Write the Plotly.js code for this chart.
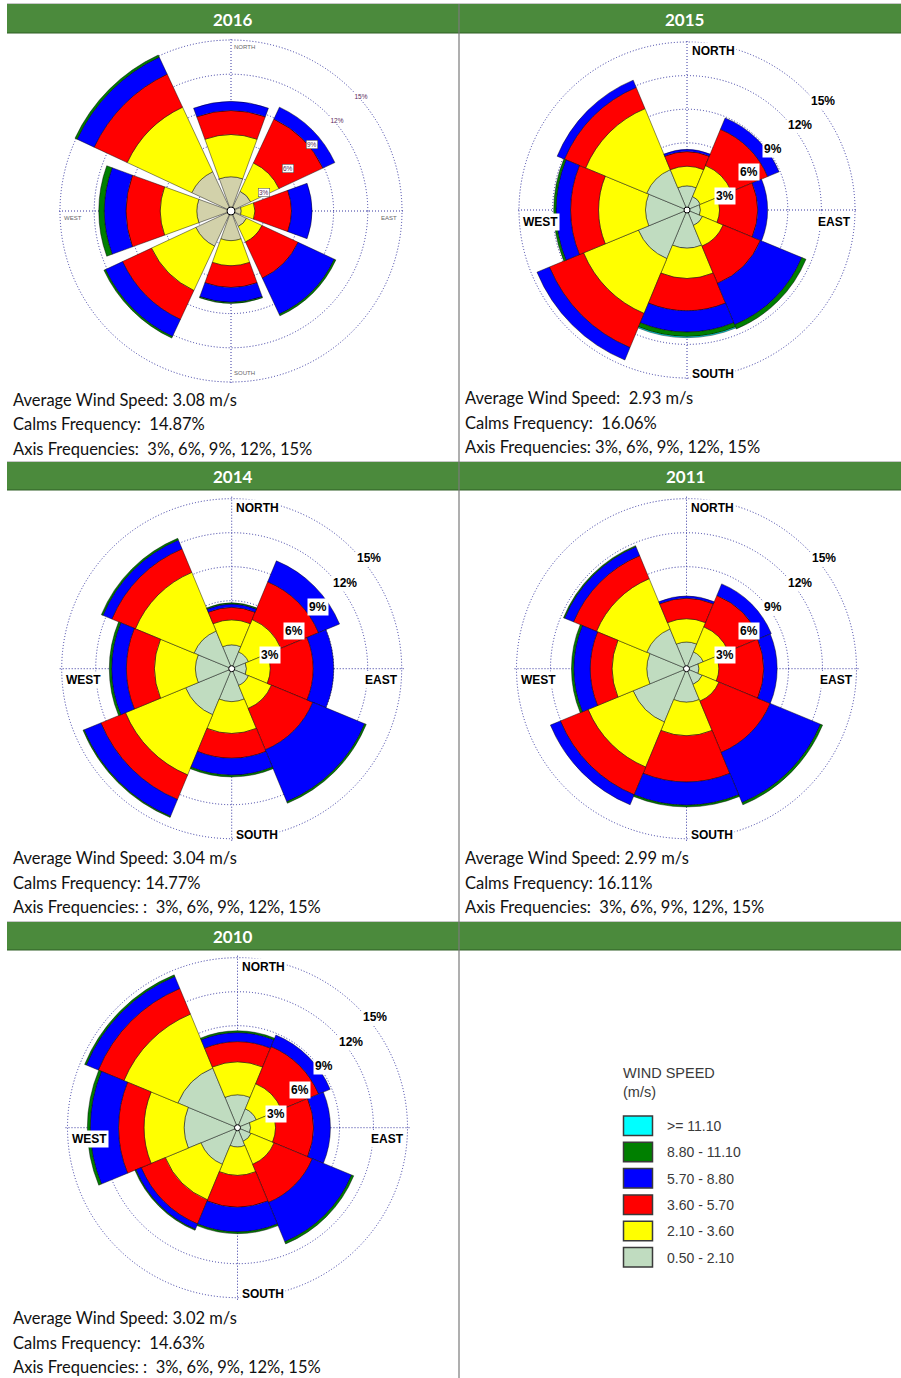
<!DOCTYPE html>
<html><head><meta charset="utf-8">
<script src="https://cdn.plot.ly/plotly-3.0.1.min.js"></script>
<style>html,body{margin:0;padding:0;background:#fff}#chart{width:901px;height:1378px}</style>
</head><body><div id="chart"></div>
<script>
// ---------------- DATA ----------------
const directions = [0, 45, 90, 135, 180, 225, 270, 315];           // N, NE, E, SE, S, SW, W, NW
const speedClasses = ['0.50 - 2.10', '2.10 - 3.60', '3.60 - 5.70', '5.70 - 8.80', '8.80 - 11.10', '>= 11.10'];
const years = ['2016', '2015', '2014', '2011', '2010'];
// frequency (%) per speed class (rows) and direction (columns)
const freq2016 = [
  [3.0, 1.9, 0.9, 1.5, 2.6, 3.4, 3.0, 3.8],
  [3.7, 2.75, 1.2, 1.5, 2.2, 4.3, 3.2, 6.25],
  [2.1, 4.25, 3.2, 3.5, 1.9, 2.8, 3.0, 3.2],
  [0.8, 1.15, 1.8, 3.5, 1.3, 1.65, 1.9, 1.65],
  [0, 0, 0, 0.15, 0.1, 0.15, 0.5, 0.2],
  [0, 0, 0, 0, 0, 0, 0, 0]
];
const freq2015 = [
  [2.15, 1.3, 1.2, 1.5, 3.4, 4.7, 3.7, 3.9],
  [1.75, 3.0, 1.7, 2.0, 2.7, 5.3, 4.2, 5.9],
  [1.3, 3.5, 3.4, 3.6, 2.9, 3.3, 2.5, 2.05],
  [0.2, 1.1, 0.9, 4.0, 1.9, 1.2, 1.3, 0.7],
  [0, 0, 0, 0.4, 0.4, 0, 0.2, 0],
  [0, 0, 0, 0, 0.1, 0, 0, 0]
];
const freq2014 = [
  [2.1, 1.6, 1.3, 1.6, 2.9, 4.4, 3.2, 3.6],
  [2.2, 3.1, 2.1, 2.2, 2.8, 5.75, 3.6, 5.6],
  [1.1, 3.6, 3.8, 3.95, 2.2, 2.35, 2.5, 2.25],
  [0.3, 2.0, 1.8, 4.95, 1.5, 1.6, 1.3, 0.85],
  [0.1, 0, 0, 0.15, 0.15, 0.1, 0.2, 0.15],
  [0, 0, 0, 0, 0, 0, 0, 0]
];
const freq2011 = [
  [2.35, 1.6, 1.1, 1.5, 2.95, 5.1, 3.5, 3.8],
  [2.05, 2.4, 1.75, 1.6, 2.95, 4.3, 3.05, 4.8],
  [1.8, 3.0, 3.95, 4.9, 4.1, 2.65, 1.95, 2.2],
  [0.2, 1.1, 1.2, 4.8, 2.05, 0.95, 1.45, 0.85],
  [0, 0, 0, 0.2, 0.15, 0, 0.2, 0.1],
  [0, 0, 0, 0, 0, 0, 0, 0]
];
const freq2010 = [
  [2.9, 1.8, 1.15, 1.3, 1.7, 3.5, 4.7, 5.7],
  [2.9, 2.4, 2.2, 2.2, 2.5, 3.4, 3.55, 5.15],
  [1.8, 3.55, 3.35, 3.65, 2.8, 2.3, 2.25, 2.45],
  [0.8, 1.1, 1.5, 3.75, 2.2, 0.5, 2.5, 1.15],
  [0.15, 0, 0, 0.2, 0.15, 0.1, 0.25, 0.15],
  [0, 0, 0, 0, 0, 0, 0, 0]
];
const avgSpeedLines = ['Average Wind Speed: 3.08 m/s', 'Average Wind Speed:  2.93 m/s', 'Average Wind Speed: 3.04 m/s', 'Average Wind Speed: 2.99 m/s', 'Average Wind Speed: 3.02 m/s'];
const calmsLines = ['Calms Frequency:  14.87%', 'Calms Frequency:  16.06%', 'Calms Frequency: 14.77%', 'Calms Frequency: 16.11%', 'Calms Frequency:  14.63%'];
const axisLines = ['Axis Frequencies:  3%, 6%, 9%, 12%, 15%', 'Axis Frequencies: 3%, 6%, 9%, 12%, 15%', 'Axis Frequencies: :  3%, 6%, 9%, 12%, 15%', 'Axis Frequencies:  3%, 6%, 9%, 12%, 15%', 'Axis Frequencies: :  3%, 6%, 9%, 12%, 15%'];
const axisTicks = [3, 6, 9, 12, 15];
const compassLabels = ['NORTH', 'EAST', 'SOUTH', 'WEST'];
const legendTitle = 'WIND SPEED<br>(m/s)';

// ---------------- STYLE / LAYOUT ----------------
const W = 901, H = 1378;
const classColors = ['#c0dcc0', '#ffff00', '#ff0000', '#0000ff', '#007f00', '#00ffff'];
const calmColor2016 = '#d2d1aa';
const allFreqs = [freq2016, freq2015, freq2014, freq2011, freq2010];
const centers = [[231, 211], [687, 210], [231.7, 668.7], [686.5, 668.7], [237.5, 1127.7]];
const ring15 = [171, 168, 170, 170, 170];
const sectorWidth = [40, 45, 45, 45, 45];
const smallStyle = [true, false, false, false, false];
const infoX = [11, 463, 11, 463, 11];
const infoY = [[400, 424, 449], [398, 423, 447], [858, 883, 907], [858, 883, 907], [1318, 1343, 1367]];
const RMAX = 15.2;
const gridCol = '#3434a0';
const gridDash = '1px,2px';
const infoFont = 'Lato, "Open Sans", sans-serif';

const sp = s => s.replace(/  /g, ' \u00a0');
const P = (x, y) => ({ x: x / W, y: 1 - y / H });

const traces = [];
const layout = {
  width: W, height: H, margin: { l: 0, r: 0, t: 0, b: 0 },
  paper_bgcolor: '#fff', plot_bgcolor: '#fff', showlegend: false,
  annotations: [], shapes: []
};

function addText(x, y, text, opt) {
  const p = P(x, y);
  layout.annotations.push(Object.assign({
    xref: 'paper', yref: 'paper', x: p.x, y: p.y, text: text, showarrow: false,
    xanchor: 'left', yanchor: 'middle', font: { family: infoFont, size: 16.5, color: '#111' }
  }, opt || {}));
}
function addRect(x0, y0, x1, y1, fill, line) {
  const a = P(x0, y0), b = P(x1, y1);
  layout.shapes.push({ type: 'rect', xref: 'paper', yref: 'paper', x0: a.x, y0: a.y, x1: b.x, y1: b.y,
    fillcolor: fill, line: line || { width: 0 }, layer: 'above' });
}
function addLine(x0, y0, x1, y1, color, width) {
  const a = P(x0, y0), b = P(x1, y1);
  layout.shapes.push({ type: 'line', xref: 'paper', yref: 'paper', x0: a.x, y0: a.y, x1: b.x, y1: b.y,
    line: { color: color, width: width }, layer: 'above' });
}

// header bars
const hdrGreen = '#4b8a3c';
[[4, 33], [462, 490], [922, 950]].forEach(([y0, y1]) => {
  addRect(7, y0, 901, y1, hdrGreen);
  addLine(7, y0 - 0.5, 901, y0 - 0.5, '#c8c8c8', 1);
  addLine(7, y1, 901, y1, '#2e5e25', 1.2);
});
addLine(459, 4, 459, 1378, '#7a7a7a', 1.2);
const hdrPos = [[233, 19], [684.5, 19], [233, 476], [685, 476], [233, 936]];
years.forEach((yr, i) => addText(hdrPos[i][0], hdrPos[i][1], yr,
  { xanchor: 'center', font: { family: infoFont, size: 17, color: '#fff', weight: 'bold' } }));

// roses
allFreqs.forEach((freqs, i) => {
  const id = i === 0 ? 'polar' : 'polar' + (i + 1);
  const [cx, cy] = centers[i];
  const R15 = ring15[i];
  const R = R15 * RMAX / 15;
  layout[id] = {
    domain: { x: [(cx - R) / W, (cx + R) / W], y: [1 - (cy + R) / H, 1 - (cy - R) / H] },
    bgcolor: 'rgba(0,0,0,0)',
    barmode: 'stack',
    radialaxis: { range: [0, RMAX], tickvals: axisTicks, showticklabels: false, ticks: '', showline: false,
      gridcolor: gridCol, griddash: gridDash, gridwidth: 1 },
    angularaxis: { rotation: 90, direction: 'clockwise', tickvals: [0, 90, 180, 270], showticklabels: false,
      ticks: '', showline: false, gridcolor: gridCol, griddash: gridDash, gridwidth: 1 }
  };
  freqs.forEach((vals, k) => {
    traces.push({
      type: 'barpolar', subplot: id, r: vals, theta: directions, width: sectorWidth[i],
      name: speedClasses[k],
      marker: { color: (k === 0 && i === 0) ? calmColor2016 : classColors[k], line: { color: 'rgba(0,0,0,0.75)', width: 0.6 } },
      hoverinfo: 'skip'
    });
  });
  traces.push({ type: 'scatterpolar', subplot: id, r: [0], theta: [0], mode: 'markers',
    marker: { size: i === 0 ? 8 : 6, color: '#fff', line: { color: '#000', width: 1 } }, hoverinfo: 'skip' });

  const small = smallStyle[i];
  // compass labels
  if (small) {
    const f = { family: 'Liberation Sans, Arial', size: 6, color: '#666' };
    addText(cx + 2, cy - R15 + 7, compassLabels[0], { font: f, bgcolor: '#fff', borderpad: 0 });
    addText(cx + R15 - 4, cy + 6.7, compassLabels[1], { font: f, xanchor: 'right', bgcolor: '#fff', borderpad: 0 });
    addText(cx + 2, cy + R15 - 9, compassLabels[2], { font: f, bgcolor: '#fff', borderpad: 0 });
    addText(cx - R15 + 3, cy + 6.7, compassLabels[3], { font: f, bgcolor: '#fff', borderpad: 0 });
  } else {
    const f = { family: 'Liberation Sans, Arial', size: 12, color: '#000', weight: 'bold' };
    addText(cx + 2.5, cy - R15 + 9, compassLabels[0], { font: f, bgcolor: '#fff', borderpad: 1 });
    addText(cx + R15 - 2, cy + 11.5, compassLabels[1], { font: f, xanchor: 'right', bgcolor: '#fff', borderpad: 1 });
    addText(cx + 2.5, cy + R15 - 4, compassLabels[2], { font: f, bgcolor: '#fff', borderpad: 1 });
    addText(cx - R15 + 2, cy + 11.5, compassLabels[3], { font: f, bgcolor: '#fff', borderpad: 1 });
  }
  // ring labels along the NE diagonal
  axisTicks.forEach(t => {
    const rp = R15 * t / 15 * Math.SQRT1_2;
    if (small) {
      addText(cx + rp + 2.5, cy - rp + 6, t + '%', { font: { family: 'Liberation Sans, Arial', size: 6.5, color: '#5a2a5a' },
        bgcolor: '#fff', borderpad: 0.5, bordercolor: t <= 9 ? '#444' : 'rgba(0,0,0,0)', borderwidth: t <= 9 ? 0.5 : 0 });
    } else {
      addText(cx + rp + 3.5, cy - rp + 10, t + '%', { font: { family: 'Liberation Sans, Arial', size: 12, color: '#000', weight: 'bold' },
        bgcolor: '#fff', borderpad: 1 });
    }
  });
  // info lines
  [avgSpeedLines[i], calmsLines[i], axisLines[i]].forEach((s, j) => addText(infoX[i], infoY[i][j], sp(s)));
});

// legend
const legFont = { family: 'Liberation Sans, Arial', size: 14, color: '#3a3a3a' };
addText(621, 1082, legendTitle, { font: { family: 'Liberation Sans, Arial', size: 14.5, color: '#3a3a3a' }, align: 'left' });
const legTop = 1116, legStep = 26.3;
for (let n = 0; n < speedClasses.length; n++) {
  const k = speedClasses.length - 1 - n;
  const y0 = legTop + n * legStep;
  addRect(623.5, y0, 652.5, y0 + 19.5, classColors[k], { color: '#3a3a3a', width: 1.5 });
  addText(665, y0 + 10, speedClasses[k], { font: legFont });
}

Plotly.newPlot('chart', traces, layout, { staticPlot: true });
</script></body></html>
